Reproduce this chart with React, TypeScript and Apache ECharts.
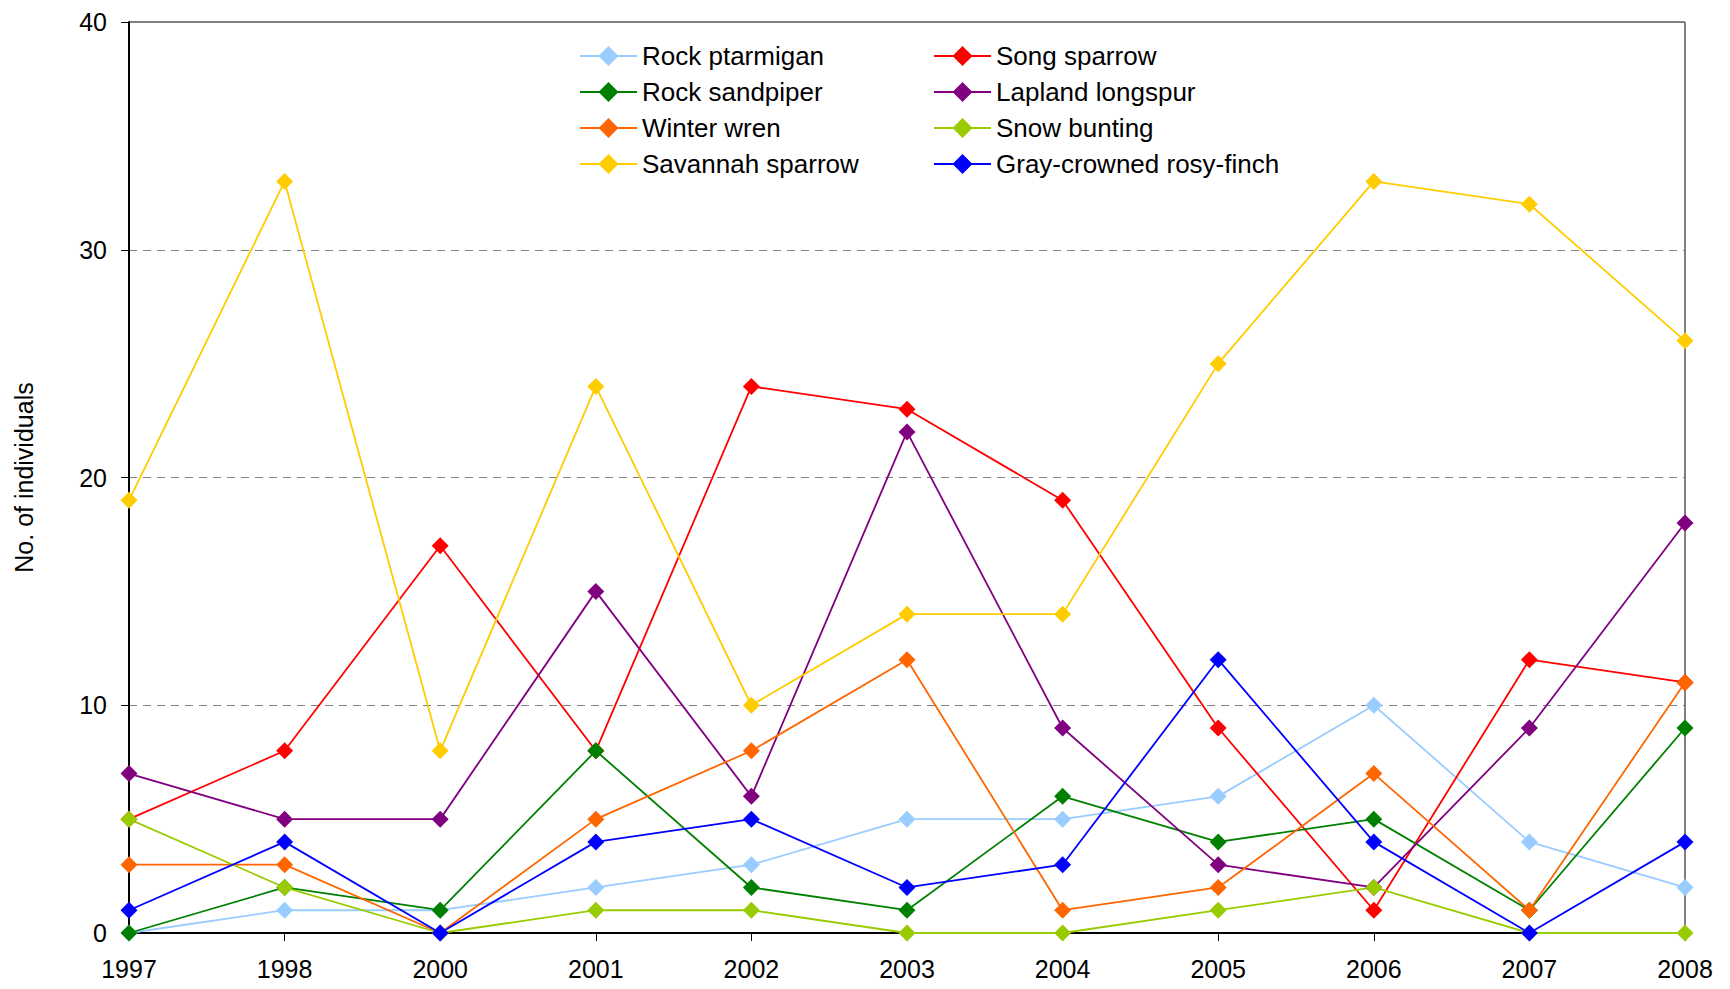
import React, { useEffect, useRef } from "react";
import * as echarts from "echarts";

const years = ["1997", "1998", "2000", "2001", "2002", "2003", "2004", "2005", "2006", "2007", "2008"];

const rockPtarmigan = [0, 1, 1, 2, 3, 5, 5, 6, 10, 4, 2];
const songSparrow = [5, 8, 17, 8, 24, 23, 19, 9, 1, 12, 11];
const rockSandpiper = [0, 2, 1, 8, 2, 1, 6, 4, 5, 1, 9];
const laplandLongspur = [7, 5, 5, 15, 6, 22, 9, 3, 2, 9, 18];
const winterWren = [3, 3, 0, 5, 8, 12, 1, 2, 7, 1, 11];
const snowBunting = [5, 2, 0, 1, 1, 0, 0, 1, 2, 0, 0];
const savannahSparrow = [19, 33, 8, 24, 10, 14, 14, 25, 33, 32, 26];
const grayCrownedRosyFinch = [1, 4, 0, 4, 5, 2, 3, 12, 4, 0, 4];

const seriesDefs = [
  { name: "Rock ptarmigan", data: rockPtarmigan, color: "#99CCFF" },
  { name: "Song sparrow", data: songSparrow, color: "#FF0000" },
  { name: "Rock sandpiper", data: rockSandpiper, color: "#008000" },
  { name: "Lapland longspur", data: laplandLongspur, color: "#800080" },
  { name: "Winter wren", data: winterWren, color: "#FF6600" },
  { name: "Snow bunting", data: snowBunting, color: "#99CC00" },
  { name: "Savannah sparrow", data: savannahSparrow, color: "#FFCC00" },
  { name: "Gray-crowned rosy-finch", data: grayCrownedRosyFinch, color: "#0000FF" },
];

const legendLeft = ["Rock ptarmigan", "Rock sandpiper", "Winter wren", "Savannah sparrow"];
const legendRight = ["Song sparrow", "Lapland longspur", "Snow bunting", "Gray-crowned rosy-finch"];

const FONT = "'Liberation Sans', Arial, sans-serif";

export default function App() {
  const ref = useRef<HTMLDivElement>(null);
  useEffect(() => {
    if (!ref.current) return;
    const chart = echarts.init(ref.current, null, { renderer: "svg" });
    const legendCommon = {
      orient: "vertical",
      top: 38,
      padding: 5,
      itemWidth: 57,
      itemHeight: 25,
      itemGap: 10,
      textStyle: { fontFamily: FONT, fontSize: 26, color: "#000" },
      selectedMode: false,
    };
    chart.setOption({
      animation: false,
      backgroundColor: "#fff",
      textStyle: { fontFamily: FONT },
      legend: [
        { ...legendCommon, left: 574, data: legendLeft },
        { ...legendCommon, left: 928, data: legendRight },
      ],
      grid: {
        left: 129,
        right: 45,
        top: 22,
        bottom: 56,
        show: true,
        borderColor: "#000",
        borderWidth: 1,
        backgroundColor: "transparent",
      },
      xAxis: {
        type: "category",
        data: years,
        boundaryGap: false,
        axisLine: { lineStyle: { color: "#000", width: 2 } },
        axisTick: { show: true, inside: false, length: 8, lineStyle: { color: "#000" } },
        axisLabel: { fontFamily: FONT, fontSize: 25, color: "#000", margin: 23 },
        splitLine: { show: false },
      },
      yAxis: {
        type: "value",
        min: 0,
        max: 40,
        interval: 10,
        name: "No. of individuals",
        nameLocation: "middle",
        nameGap: 93,
        nameTextStyle: { fontFamily: FONT, fontSize: 25, color: "#000" },
        axisLine: { show: true, lineStyle: { color: "#000", width: 2 } },
        axisTick: { show: true, inside: false, length: 8, lineStyle: { color: "#000" } },
        axisLabel: { fontFamily: FONT, fontSize: 25, color: "#000", margin: 22 },
        splitLine: { show: true, lineStyle: { color: "#808080", type: [8, 6], width: 1 } },
      },
      series: seriesDefs.map((s) => ({
        name: s.name,
        type: "line",
        data: s.data,
        symbol: "diamond",
        symbolSize: 17,
        color: s.color,
        lineStyle: { color: s.color, width: 1.8 },
        itemStyle: { color: s.color },
        emphasis: { disabled: true },
      })),
    });
    return () => chart.dispose();
  }, []);
  return (
    <div
      ref={ref}
      style={{ position: "fixed", left: 0, top: 0, width: 1730, height: 989 }}
    />
  );
}
